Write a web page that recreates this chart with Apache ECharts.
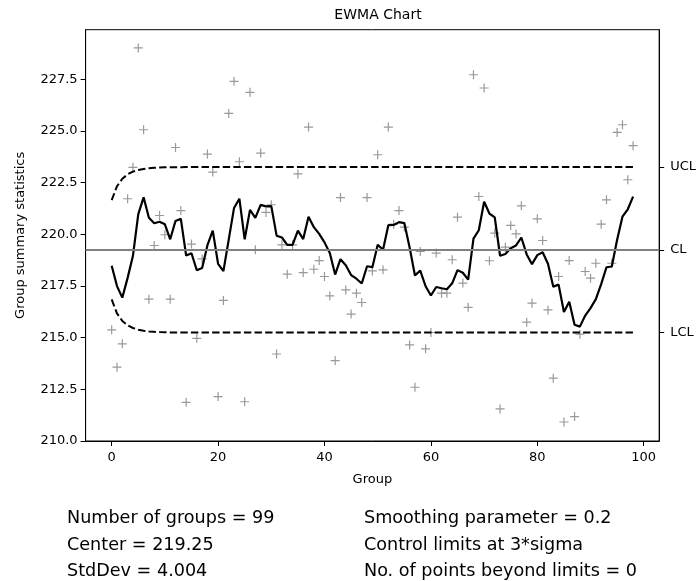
<!DOCTYPE html>
<html>
<head>
<meta charset="utf-8">
<script src="https://cdn.jsdelivr.net/npm/echarts@6/dist/echarts.min.js"></script>
<style>
  html, body { margin: 0; padding: 0; background: #fff; }
  #chart { width: 699px; height: 581px; }
</style>
</head>
<body>
<div id="chart"></div>
<script>
// Group summary statistics, one per group (0..98)
const groupStats = [
  215.38, 213.57, 214.70, 221.72, 223.24, 229.02, 225.06, 216.86, 219.46, 220.91,
  219.98, 216.86, 224.20, 221.15, 211.87, 219.53, 214.97, 218.81, 223.88, 223.01,
  212.15, 216.80, 225.85, 227.40, 223.51, 211.90, 226.87, 219.25, 223.93, 221.06,
  221.43, 214.21, 219.49, 218.07, 219.49, 222.92, 218.15, 225.19, 218.31, 218.73,
  217.96, 217.02, 213.89, 221.78, 217.31, 216.14, 217.15, 216.70, 221.78, 218.23,
  223.85, 218.28, 225.19, 220.49, 221.15, 220.35, 214.65, 212.60, 219.17, 214.46,
  215.25, 219.09, 217.15, 217.15, 218.77, 220.83, 217.64, 216.47, 227.72, 221.83,
  227.08, 218.72, 220.06, 211.55, 219.38, 220.43, 220.02, 221.38, 215.75, 216.67,
  220.75, 219.70, 216.34, 213.04, 217.96, 210.92, 218.73, 211.18, 215.17, 218.20,
  217.88, 218.60, 220.49, 221.67, 218.60, 224.93, 225.30, 222.64, 224.29
];

// Chart parameters (shown in the summary below the plot)
const center = 219.25;
const stdDev = 4.004;
const lambda = 0.2;
const nSigmas = 3;

// Axis tick values
const xTicks = [0, 20, 40, 60, 80, 100];
const yTicks = [210, 212.5, 215, 217.5, 220, 222.5, 225, 227.5];

// EWMA statistic and its time-varying control limits
const ewma = [];
const ucl = [];
const lcl = [];
let z = center;
groupStats.forEach((x, i) => {
  z = lambda * x + (1 - lambda) * z;
  ewma.push([i, z]);
  const w = nSigmas * stdDev * Math.sqrt(lambda / (2 - lambda) * (1 - Math.pow(1 - lambda, 2 * (i + 1))));
  ucl.push([i, center + w]);
  lcl.push([i, center - w]);
});
const uclLimit = center + nSigmas * stdDev * Math.sqrt(lambda / (2 - lambda));
const lclLimit = center - nSigmas * stdDev * Math.sqrt(lambda / (2 - lambda));
const rightLabels = { UCL: uclLimit, CL: center, LCL: lclLimit };

const points = groupStats.map((v, i) => [i, v]);

const font = 'DejaVu Sans';
const textFont = '17.6px "DejaVu Sans"';
const chart = echarts.init(document.getElementById('chart'), null, { renderer: 'canvas' });

const gridBox = { left: 85.6, right: 38.5, top: 29.7, bottom: 140 };

chart.setOption({
  animation: false,
  backgroundColor: '#ffffff',
  title: {
    text: 'EWMA Chart',
    left: 373, top: 3, textAlign: 'center',
    textStyle: { fontFamily: font, fontSize: 14, fontWeight: 'normal', color: '#000' }
  },
  grid: {
    left: gridBox.left, right: gridBox.right, top: gridBox.top, bottom: gridBox.bottom,
    show: true, borderColor: '#000', borderWidth: 1, backgroundColor: 'transparent'
  },
  xAxis: {
    type: 'value', min: -4.9, max: 102.9,
    name: 'Group', nameLocation: 'middle', nameGap: 32,
    nameTextStyle: { fontFamily: font, fontSize: 13, color: '#000' },
    axisLine: { show: true, onZero: false, lineStyle: { color: '#000', width: 1 } },
    axisTick: { show: true, length: 5, lineStyle: { color: '#000' }, customValues: xTicks },
    axisLabel: { fontFamily: font, fontSize: 13, color: '#000', margin: 10, customValues: xTicks },
    splitLine: { show: false }
  },
  yAxis: [{
    type: 'value', min: 210, max: 229.9,
    name: 'Group summary statistics', nameLocation: 'middle', nameGap: 58, nameRotate: 90,
    nameTextStyle: { fontFamily: font, fontSize: 13, color: '#000' },
    axisLine: { show: true, onZero: false, lineStyle: { color: '#000', width: 1 } },
    axisTick: { show: true, length: 5, lineStyle: { color: '#000' }, customValues: yTicks },
    axisLabel: {
      fontFamily: font, fontSize: 13, color: '#000', margin: 8, customValues: yTicks,
      formatter: v => v.toFixed(1)
    },
    splitLine: { show: false }
  }, {
    type: 'value', min: 210, max: 229.9, position: 'right',
    axisLine: { show: true, onZero: false, lineStyle: { color: '#000', width: 1 } },
    axisTick: { show: true, length: 5, lineStyle: { color: '#000' }, customValues: Object.values(rightLabels) },
    axisLabel: {
      fontFamily: font, fontSize: 13, color: '#000', margin: 11,
      customValues: Object.values(rightLabels),
      formatter: v => {
        for (const k in rightLabels) { if (Math.abs(rightLabels[k] - v) < 1e-6) return k; }
        return '';
      }
    },
    splitLine: { show: false }
  }],
  series: [
    {
      name: 'CL', type: 'line', data: [], silent: true,
      markLine: {
        symbol: 'none', silent: true, label: { show: false },
        lineStyle: { color: '#808080', width: 2, type: 'solid' },
        data: [{ yAxis: center }]
      }
    },
    {
      name: 'UCL', type: 'line', data: ucl, showSymbol: false, symbol: 'none',
      lineStyle: { color: '#000', width: 2, type: [7.4, 3.2] }, z: 3
    },
    {
      name: 'LCL', type: 'line', data: lcl, showSymbol: false, symbol: 'none',
      lineStyle: { color: '#000', width: 2, type: [7.4, 3.2] }, z: 3
    },
    {
      name: 'Statistics', type: 'scatter', data: points,
      symbol: 'path://M0,-1L0,1M-1,0L1,0', symbolSize: 9,
      itemStyle: { color: 'none', borderColor: '#808080', borderWidth: 1.2 }, z: 2
    },
    {
      name: 'EWMA', type: 'line', data: ewma, showSymbol: false, symbol: 'none',
      lineStyle: { color: '#000', width: 2.2 }, z: 4
    }
  ],
  graphic: [
    { type: 'text', left: 67, top: 509, style: { text: 'Number of groups = ' + groupStats.length, font: textFont, fill: '#000' } },
    { type: 'text', left: 67, top: 536, style: { text: 'Center = ' + center.toFixed(2), font: textFont, fill: '#000' } },
    { type: 'text', left: 67, top: 562, style: { text: 'StdDev = ' + stdDev.toFixed(3), font: textFont, fill: '#000' } },
    { type: 'text', left: 364, top: 509, style: { text: 'Smoothing parameter = ' + lambda, font: textFont, fill: '#000' } },
    { type: 'text', left: 364, top: 536, style: { text: 'Control limits at ' + nSigmas + '*sigma', font: textFont, fill: '#000' } },
    { type: 'text', left: 364, top: 562, style: { text: 'No. of points beyond limits = 0', font: textFont, fill: '#000' } }
  ]
});
</script>
</body>
</html>
